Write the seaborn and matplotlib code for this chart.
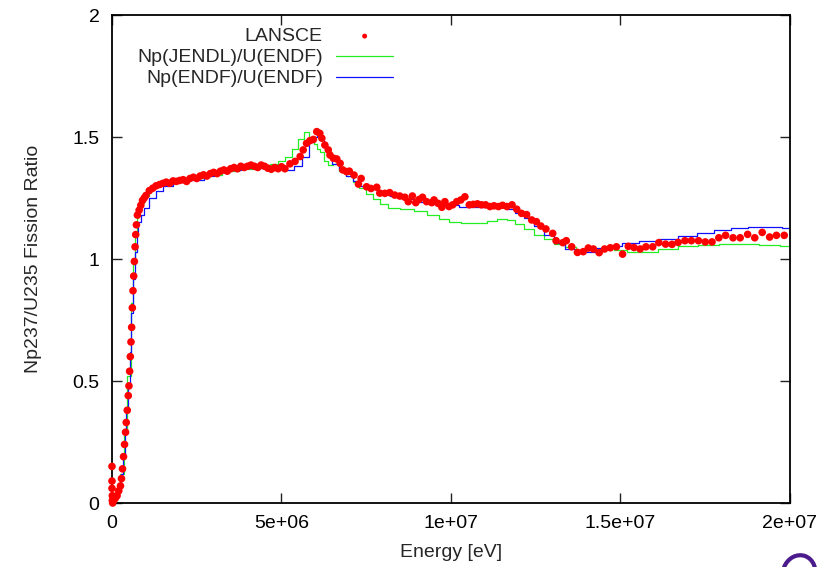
import matplotlib
matplotlib.use('Agg')
import matplotlib.pyplot as plt
from matplotlib.patches import Arc
import pandas as pd
import seaborn as sns

# LANSCE measurement (energy in MeV, ratio)
lansce_e = [0.0, 0.0, 0.0, 0.01, 0.01, 0.02,
            0.05, 0.1, 0.15, 0.2, 0.25, 0.28, 0.31, 0.34, 0.37, 0.4, 0.42, 0.45, 0.48, 0.5,
            0.52, 0.54, 0.56, 0.58, 0.6, 0.62, 0.64, 0.66, 0.68, 0.7, 0.72, 0.75, 0.8, 0.85,
            0.9, 0.95, 1.0, 1.1, 1.2, 1.3, 1.4, 1.5, 1.6, 1.7, 1.8, 1.9, 2.0, 2.1, 2.2, 2.3,
            2.4, 2.5, 2.6, 2.7, 2.8, 2.9, 3.0, 3.1, 3.2, 3.3, 3.4, 3.5, 3.6, 3.7, 3.8, 3.9,
            4.0, 4.1, 4.2, 4.3, 4.4, 4.5, 4.6, 4.7, 4.8, 4.9, 5.0, 5.1, 5.25, 5.4, 5.55, 5.64,
            5.74, 5.84, 5.94, 6.04, 6.13, 6.19, 6.28, 6.38, 6.43, 6.53, 6.63, 6.73, 6.81, 6.92,
            7.0, 7.14, 7.27, 7.35, 7.51, 7.64, 7.81, 7.9, 8.05, 8.19, 8.34, 8.49, 8.64, 8.74,
            8.86, 8.96, 9.06, 9.16, 9.28, 9.43, 9.5, 9.62, 9.73, 9.82, 9.94, 10.05, 10.17,
            10.29, 10.41, 10.54, 10.66, 10.78, 10.9, 11.02, 11.15, 11.27, 11.4, 11.52, 11.65,
            11.8, 11.94, 12.08, 12.23, 12.38, 12.52, 12.65, 12.8, 13.0, 13.1, 13.3, 13.4,
            13.56, 13.73, 13.9, 14.05, 14.2, 14.37, 14.53, 14.7, 14.88, 15.06, 15.23, 15.4,
            15.58, 15.75, 15.95, 16.13, 16.33, 16.52, 16.7, 16.9, 17.09, 17.3, 17.5, 17.7,
            17.9, 18.1, 18.32, 18.53, 18.75, 18.96, 19.18, 19.4, 19.6, 19.83]
lansce_r = [0.15, 0.09, 0.06, 0.03, 0.01, 0.0,
            0.01, 0.02, 0.03, 0.05, 0.07, 0.1, 0.14, 0.19, 0.24, 0.29, 0.33, 0.38, 0.44, 0.48,
            0.54, 0.6, 0.66, 0.72, 0.8, 0.87, 0.93, 0.99, 1.05, 1.1, 1.14, 1.18, 1.2, 1.22,
            1.24, 1.25, 1.26, 1.28, 1.29, 1.3, 1.305, 1.31, 1.315, 1.31, 1.32, 1.318, 1.322,
            1.325, 1.318, 1.33, 1.335, 1.33, 1.34, 1.345, 1.34, 1.35, 1.355, 1.35, 1.36, 1.365,
            1.36, 1.37, 1.375, 1.37, 1.38, 1.375, 1.38, 1.385, 1.38, 1.375, 1.385, 1.38, 1.372,
            1.368, 1.375, 1.37, 1.378, 1.37, 1.39, 1.4, 1.42, 1.447, 1.474, 1.485, 1.49, 1.522,
            1.515, 1.495, 1.467, 1.447, 1.426, 1.413, 1.41, 1.392, 1.365, 1.358, 1.36, 1.344,
            1.307, 1.33, 1.296, 1.289, 1.294, 1.27, 1.269, 1.272, 1.262, 1.258, 1.253, 1.235,
            1.258, 1.231, 1.244, 1.253, 1.235, 1.231, 1.242, 1.228, 1.212, 1.235, 1.215, 1.222,
            1.235, 1.242, 1.255, 1.222, 1.224, 1.226, 1.222, 1.222, 1.215, 1.218, 1.215, 1.22,
            1.215, 1.222, 1.204, 1.187, 1.182, 1.16, 1.153, 1.135, 1.123, 1.105, 1.075, 1.067,
            1.075, 1.05, 1.027, 1.03, 1.045, 1.041, 1.026, 1.041, 1.046, 1.05, 1.02, 1.052,
            1.047, 1.041, 1.05, 1.05, 1.067, 1.061, 1.06, 1.068, 1.075, 1.075, 1.075, 1.07,
            1.07, 1.087, 1.097, 1.087, 1.087, 1.101, 1.087, 1.109, 1.09, 1.097, 1.097]

# Np(JENDL)/U(ENDF)
jendl_e = [0.0, 0.1, 0.2, 0.3, 0.4, 0.5, 0.6, 0.65, 0.7, 0.75, 0.8, 0.9, 1.0, 1.2, 1.4,
           1.6, 2.0, 2.5, 3.0, 3.5, 4.0, 4.5, 4.8, 5.0, 5.2, 5.4, 5.6, 5.75, 5.9, 6.0, 6.1,
           6.2, 6.3, 6.45, 6.6, 6.8, 7.0, 7.2, 7.4, 7.6, 7.8, 8.0, 8.3, 8.7, 9.1, 9.5, 9.8,
           10.1, 10.5, 10.9, 11.2, 11.5, 11.8, 12.0, 12.3, 12.6, 12.9, 13.2, 13.5, 13.9,
           14.3, 14.6, 15.0, 15.4, 15.8, 16.4, 17.0, 17.6, 18.2, 18.8, 19.4, 20.0]
jendl_r = [0.0, 0.02, 0.05, 0.12, 0.3, 0.52, 0.82, 0.98, 1.1, 1.17, 1.2, 1.23, 1.26, 1.29,
           1.305, 1.31, 1.32, 1.33, 1.345, 1.36, 1.37, 1.38, 1.39, 1.4, 1.42, 1.45, 1.49,
           1.52, 1.5, 1.47, 1.45, 1.44, 1.4, 1.385, 1.39, 1.36, 1.34, 1.315, 1.29, 1.265,
           1.245, 1.225, 1.21, 1.205, 1.195, 1.18, 1.165, 1.153, 1.148, 1.147, 1.155, 1.165,
           1.16, 1.145, 1.125, 1.098, 1.08, 1.062, 1.048, 1.035, 1.04, 1.045, 1.035, 1.03,
           1.03, 1.04, 1.053, 1.058, 1.062, 1.06, 1.057, 1.053]

# Np(ENDF)/U(ENDF)
endf_e = [0.0, 0.1, 0.2, 0.25, 0.3, 0.35, 0.4, 0.45, 0.5, 0.55, 0.6, 0.65, 0.7, 0.75, 0.8,
          0.9, 1.0, 1.2, 1.4, 1.6, 2.0, 2.4, 2.6, 2.8, 3.2, 3.6, 4.0, 4.5, 5.0, 5.25, 5.5,
          5.7, 5.9, 6.0, 6.1, 6.2, 6.3, 6.4, 6.6, 6.8, 7.0, 7.2, 7.4, 7.7, 8.0, 8.4, 8.8,
          9.2, 9.6, 10.0, 10.5, 11.0, 11.5, 11.8, 12.0, 12.3, 12.6, 12.9, 13.2, 13.5, 13.8,
          14.1, 14.4, 14.8, 15.3, 15.8, 16.4, 17.0, 17.5, 18.0, 18.5, 19.0, 19.5, 20.0]
endf_r = [0.0, 0.02, 0.05, 0.08, 0.12, 0.2, 0.29, 0.38, 0.49, 0.62, 0.78, 0.92, 1.03, 1.11,
          1.15, 1.18, 1.21, 1.25, 1.28, 1.3, 1.315, 1.325, 1.322, 1.34, 1.355, 1.365, 1.372,
          1.375, 1.372, 1.365, 1.38, 1.42, 1.48, 1.5, 1.505, 1.49, 1.46, 1.43, 1.39, 1.365,
          1.34, 1.32, 1.3, 1.285, 1.275, 1.26, 1.245, 1.235, 1.225, 1.22, 1.215, 1.215,
          1.212, 1.205, 1.19, 1.17, 1.135, 1.1, 1.065, 1.04, 1.027, 1.03, 1.045, 1.055,
          1.066, 1.075, 1.082, 1.095, 1.108, 1.118, 1.128, 1.133, 1.132, 1.127]

x_ticks = [0, 5e6, 1e7, 1.5e7, 2e7]
x_labels = ['0', '5e+06', '1e+07', '1.5e+07', '2e+07']
y_ticks = [0, 0.5, 1, 1.5, 2]
y_labels = ['0', '0.5', '1', '1.5', '2']

sns.set_style('ticks')
plt.rcParams['font.family'] = ['Liberation Sans', 'DejaVu Sans']

df_pts = pd.DataFrame({'energy': [e * 1e6 for e in lansce_e], 'ratio': lansce_r})
df_jendl = pd.DataFrame({'energy': [e * 1e6 for e in jendl_e], 'ratio': jendl_r})
df_endf = pd.DataFrame({'energy': [e * 1e6 for e in endf_e], 'ratio': endf_r})

fig = plt.figure(figsize=(8.29, 5.67), dpi=100)
ax = fig.add_axes([112 / 829, 1 - 503 / 567, 678 / 829, 488 / 567])

sns.lineplot(data=df_jendl, x='energy', y='ratio', ax=ax, color='#22ee22', lw=0.9,
             drawstyle='steps-mid', label='Np(JENDL)/U(ENDF)', estimator=None, sort=False)
sns.lineplot(data=df_endf, x='energy', y='ratio', ax=ax, color='#1010ff', lw=0.9,
             drawstyle='steps-mid', label='Np(ENDF)/U(ENDF)', estimator=None, sort=False)
sns.scatterplot(data=df_pts, x='energy', y='ratio', ax=ax, color='#ff0000', s=30,
                edgecolor='none', label='LANSCE', zorder=3, clip_on=False)

ax.set_xlim(0, 2e7)
ax.set_ylim(0, 2)
ax.set_xticks(x_ticks)
ax.set_xticklabels(x_labels)
ax.set_yticks(y_ticks)
ax.set_yticklabels(y_labels)
ax.tick_params(direction='in', length=7, width=1, top=True, right=True,
               labelsize=14, pad=9, colors='#222222', labelcolor='black')
for sp in ax.spines.values():
    sp.set_linewidth(1.3)
    sp.set_color('black')
ax.set_xlabel('Energy [eV]', fontsize=14, labelpad=8)
ax.set_ylabel('Np237/U235 Fission Ratio', fontsize=14, labelpad=22)

handles, labels = ax.get_legend_handles_labels()
order = [labels.index('LANSCE'), labels.index('Np(JENDL)/U(ENDF)'),
         labels.index('Np(ENDF)/U(ENDF)')]
leg = ax.legend([handles[i] for i in order], [labels[i] for i in order],
                loc='upper right', bbox_to_anchor=(0.44, 1.01), frameon=False,
                markerfirst=False, fontsize=14, handlelength=2.9, handletextpad=0.7,
                labelspacing=0.18, markerscale=0.65)

# stray purple stroke in the bottom-right corner of the source image
fig.add_artist(Arc((7.99, -0.06), 0.32, 0.36, angle=-20, theta1=0, theta2=180,
                   transform=fig.dpi_scale_trans, color='#4b1a8c', lw=3))

fig.savefig('out.png', dpi=100)
